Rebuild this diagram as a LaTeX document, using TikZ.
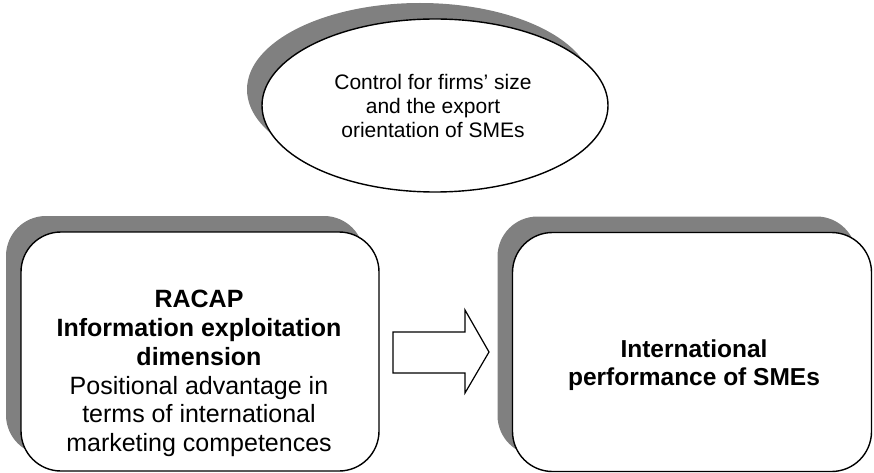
\documentclass[tikz,border=0pt]{standalone}
\usepackage{fontspec}
\setmainfont{Liberation Sans}
\usetikzlibrary{shapes.geometric,shadows}
\definecolor{shadowgray}{HTML}{808080}
\begin{document}
\begin{tikzpicture}[x=1pt,y=-1pt,
  frontshape/.style={draw=black, line width=1.4pt, fill=white,
    general shadow={shadow xshift=-15pt, shadow yshift=16pt, fill=shadowgray, draw=none}},
  boxshape/.style={frontshape, rectangle, rounded corners=40pt, minimum width=358pt, minimum height=239pt, inner sep=0pt},
  ovalshape/.style={frontshape, ellipse, minimum width=346pt, minimum height=173pt, inner sep=0pt},
  boxtext/.style={align=center, inner sep=0pt, font=\fontsize{25}{28.8}\selectfont},
  ovaltext/.style={align=center, inner sep=0pt, font=\fontsize{21}{24}\selectfont},
  blockarrow/.style={draw=black, line width=1.2pt, fill=white, line join=miter}
]
\useasboundingbox (0,0) rectangle (874,473);
\node[ovalshape] (oval) at (435,105.5) {};
\node[ovaltext] (ovaltxt) at (433,106.4) {Control for firms’ size\\and the export\\orientation of SMEs};
\node[boxshape] (lbox) at (200,351.5) {};
\node[boxtext] (ltext) at (199,373.5) {\textbf{RACAP}\\\textbf{Information exploitation}\\\textbf{dimension}\\Positional advantage in\\terms of international\\marketing competences};
\node[boxshape, minimum width=359pt] (rbox) at (692,352) {};
\node[boxtext, font=\bfseries\fontsize{24.5}{28}\selectfont] (rtext) at (694,365) {International\\performance of SMEs};
\draw[blockarrow] (393,332) -- (465,332) -- (465,310) -- (489,352) -- (465,393) -- (465,373) -- (393,373) -- cycle;
\end{tikzpicture}
\end{document}
